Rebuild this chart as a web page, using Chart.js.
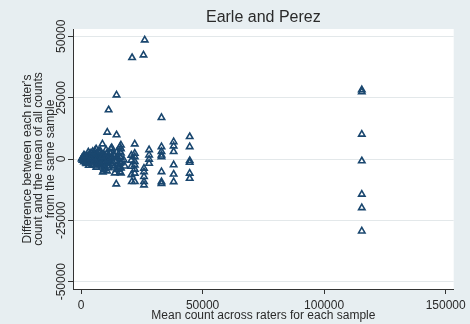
<!DOCTYPE html>
<html>
<head>
<meta charset="utf-8">
<title>Earle and Perez</title>
<script src="https://cdn.jsdelivr.net/npm/chart.js@4.4.1/dist/chart.umd.min.js"></script>
<style>
    html, body { margin: 0; padding: 0; background: #e7eef1; }
    canvas { display: block; }
</style>
</head>
<body>
<canvas id="bland" width="470" height="324"></canvas>
<script>
// mean count across raters (x) and difference from the sample mean (y)
const meanCount = [
    300, 400, 800, 1200, 1600, 2000, 2500, 2900, 3300, 3700, 1200, 2000,
    4100, 4500, 4900, 5300, 5700, 6200, 6600, 7000, 7400, 5300, 6600, 7800, 7800,
    8200, 8600, 9000, 9400, 9800, 10300, 10700, 11100, 11500, 11900, 10700, 9000,
    12300, 12700, 13100, 13500, 13900, 14400, 14800, 15200, 15600,
    16400, 16400, 16400, 16400, 16400, 16400, 16400,
    16000, 16000, 16000, 16000, 16000, 16000,
    17600, 18000,
    1000, 1800, 2700, 3500, 4300, 5000, 6000, 6800, 7600, 8400, 9200, 10000, 10900, 11700, 12500, 13300, 14100, 15000,
    600, 1400, 2200, 3000, 3900, 4700, 5500, 6400, 7200, 8000, 8800, 9600, 10500, 11300, 12100, 12900, 13700, 14700,
    3200, 4800, 6300, 7900, 9500, 11000, 12600,
    8800, 10800, 14600, 14500, 20900, 14600, 11350, 21000, 25700, 26200, 33100,
    22100, 22100, 22100, 22100, 22100, 22100, 22100, 22100,
    20700, 20700, 20700, 20700,
    25900, 25900, 25900, 25900, 25900,
    28000, 28000, 28000, 28000,
    33100, 33100, 33100, 33100, 33100, 33100, 33100,
    38100, 38100, 38100, 38100, 38100, 38100,
    44700, 44700, 44700, 44700, 44700, 44700,
    115500, 115500, 115500, 115500, 115500, 115500, 115500
];
const difference = [
    0, 400, 800, 1600, -400, 800, 1200, -800, 400, 1600, -1200, -1600,
    2400, 400, -800, 1200, 3300, 4100, 1600, -400, -1600, -2400, -2900, 400, 2900,
    1200, -400, -2000, -4500, 1600, 3700, 400, -2900, -800, 2400, -4900, -5300,
    4100, 800, -1200, -3300, -5700, 400, 2900, -2000, -3700,
    5700, 4100, 2400, 400, -1600, -3700, -5700,
    4900, 2900, 800, -1200, -3300, -5300,
    -400, -2900,
    200, 1000, -300, 2000, -1300, 1800, -1000, 2200, -1000, 2000, -1000, 800, -1500, 1000, -2000, 1800, -900, 700,
    -600, 1300, -1900, 2800, 100, -2200, 2500, -1800, 3000, -2400, 1000, -3200, 2100, -3600, 300, -2700, 1500, -4300,
    -2600, 3000, -3400, 3400, -3800, -100, 4600,
    6100, 10900, 9800, -10200, -9250, 26100, 20000, 41300, 42400, 48500, 16850,
    6100, 2300, 900, -1100, -2450, -4200, -5800, -9250,
    1500, -500, -3000, -6500,
    -3800, -5200, -7200, -9250, -10600,
    3700, 1600, -100, -1800,
    5000, 3000, 1600, 900, -5200, -9300, -10000,
    7000, 5300, 3000, -2400, -6200, -9300,
    9100, 5000, -700, -1400, -5800, -7900,
    28200, 27400, 10100, -800, -14400, -19900, -29400
];

const xTickValues = [0, 50000, 100000, 150000];
const yTickValues = [-50000, -25000, 0, 25000, 50000];

const chartTitle = 'Earle and Perez';
const xTitle = 'Mean count across raters for each sample';
const yTitle = ["Difference between each rater's", 'count and the mean of all counts', 'from the same sample'];

const points = meanCount.map((x, i) => ({ x: x, y: difference[i] }));

Chart.defaults.font.family = "'Liberation Sans', Arial, Helvetica, sans-serif";
Chart.defaults.color = '#2a2a2a';

// stata-like backdrop: bluish grey outside, white plot region, title over the plot
const stataFrame = {
    id: 'stataFrame',
    beforeDraw(chart) {
        const { ctx, chartArea } = chart;
        ctx.save();
        ctx.fillStyle = '#e7eef1';
        ctx.fillRect(0, 0, chart.width, chart.height);
        ctx.fillStyle = '#ffffff';
        ctx.fillRect(chartArea.left, chartArea.top, chartArea.right - chartArea.left, chartArea.bottom - chartArea.top);
        ctx.restore();
    },
    afterDraw(chart) {
        const { ctx, chartArea } = chart;
        ctx.save();
        ctx.fillStyle = '#2a2a2a';
        ctx.font = "16px 'Liberation Sans', Arial, sans-serif";
        ctx.textAlign = 'center';
        ctx.textBaseline = 'middle';
        ctx.fillText(chartTitle, (chartArea.left + chartArea.right) / 2, 18);
        ctx.restore();
    }
};

new Chart(document.getElementById('bland'), {
    type: 'scatter',
    data: {
        datasets: [{
            data: points,
            pointStyle: 'triangle',
            pointRadius: 3.7,
            pointHoverRadius: 3.7,
            borderWidth: 1.6,
            borderColor: '#1a476f',
            backgroundColor: 'rgba(255,255,255,0)'
        }]
    },
    options: {
        responsive: false,
        animation: false,
        layout: {
            padding: { left: 0, top: 29, right: 15, bottom: 0 }
        },
        plugins: {
            legend: { display: false },
            tooltip: { enabled: false }
        },
        scales: {
            x: {
                type: 'linear',
                min: -3300,
                max: 153300,
                afterBuildTicks: scale => { scale.ticks = xTickValues.map(v => ({ value: v })); },
                afterFit: scale => { scale.height = 35; },
                border: { color: '#333333', width: 1 },
                grid: { drawOnChartArea: false, drawTicks: true, tickLength: 5, tickColor: '#333333' },
                ticks: {
                    padding: 4,
                    maxRotation: 0,
                    font: { size: 12 },
                    color: '#2a2a2a',
                    callback: v => String(v)
                },
                title: {
                    display: true,
                    text: xTitle,
                    font: { size: 12 },
                    color: '#2a2a2a',
                    padding: { top: 0, bottom: 1 }
                }
            },
            y: {
                type: 'linear',
                min: -53000,
                max: 53000,
                afterBuildTicks: scale => { scale.ticks = yTickValues.map(v => ({ value: v })); },
                afterFit: scale => { scale.width = 73; },
                border: { color: '#333333', width: 1 },
                grid: { color: '#e3e8ea', tickLength: 5, tickColor: '#333333' },
                ticks: {
                    padding: -12,
                    minRotation: 90,
                    maxRotation: 90,
                    crossAlign: 'center',
                    font: { size: 12 },
                    color: '#2a2a2a',
                    callback: v => String(v)
                },
                title: {
                    display: true,
                    text: yTitle,
                    font: { size: 12, lineHeight: 0.96 },
                    color: '#2a2a2a',
                    padding: { top: 21.5, bottom: 0 }
                }
            }
        }
    },
    plugins: [stataFrame]
});
</script>
</body>
</html>
